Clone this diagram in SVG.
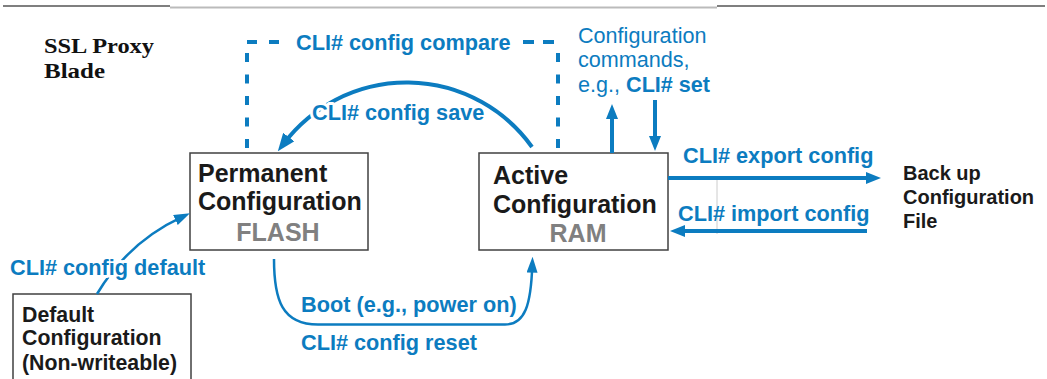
<svg xmlns="http://www.w3.org/2000/svg" width="1047" height="379" viewBox="0 0 1047 379">
<style>
.lbl{font-family:"Liberation Sans",Arial,sans-serif;font-weight:bold;font-size:21.7px;fill:#0c7cc0}
.halo{stroke:#fff;stroke-width:6;stroke-linejoin:round;paint-order:stroke}
.reg{font-family:"Liberation Sans",Arial,sans-serif;font-size:21.6px;fill:#0c7cc0}
.node{font-family:"Liberation Sans",Arial,sans-serif;font-weight:bold;font-size:25px;fill:#1a1a1a}
.mem{font-family:"Liberation Sans",Arial,sans-serif;font-weight:bold;font-size:25px;fill:#808080}
.small{font-family:"Liberation Sans",Arial,sans-serif;font-weight:bold;font-size:21.3px;fill:#1a1a1a}
.ttl{font-family:"Liberation Serif","Times New Roman",serif;font-weight:bold;font-size:22px;fill:#111}
.box{fill:#fff;stroke:#404040;stroke-width:1.5}
.thick{fill:none;stroke:#0c7cc0;stroke-width:4}
.thin{fill:none;stroke:#0c7cc0;stroke-width:2.5}
.dash{fill:none;stroke:#0c7cc0;stroke-width:4}
</style>
<defs>
<marker id="ahL" markerUnits="userSpaceOnUse" markerWidth="18" markerHeight="14" refX="8" refY="7" orient="auto"><path d="M0,0 L18,7 L0,14 z" fill="#0c7cc0"/></marker>
<marker id="ahM" markerUnits="userSpaceOnUse" markerWidth="15" markerHeight="12" refX="5" refY="6" orient="auto"><path d="M0,0 L15,6 L0,12 z" fill="#0c7cc0"/></marker>
<marker id="ahS" markerUnits="userSpaceOnUse" markerWidth="16" markerHeight="11" refX="8" refY="5.5" orient="auto"><path d="M0,0 L16,5.5 L0,11 z" fill="#0c7cc0"/></marker>
</defs>
<g id="top-rule">
<line x1="3" y1="6" x2="170" y2="6" stroke="#555" stroke-width="1.5"/>
<line x1="170" y1="7.5" x2="717" y2="7.5" stroke="#bbb" stroke-width="2"/>
<line x1="717" y1="6" x2="1045" y2="6" stroke="#555" stroke-width="1.5"/>
<line x1="717" y1="180" x2="717" y2="234" stroke="#ccc" stroke-width="1"/>
</g>
<g id="title">
<text class="ttl" x="44" y="52.5" textLength="110" lengthAdjust="spacingAndGlyphs">SSL Proxy</text>
<text class="ttl" x="44" y="77.5" textLength="61" lengthAdjust="spacingAndGlyphs">Blade</text>
</g>
<g id="node-permanent">
<rect class="box" x="190" y="153" width="178" height="97"/>
<text class="node" x="198" y="182">Permanent</text>
<text class="node" x="198" y="210">Configuration</text>
<text class="mem" x="278" y="241" text-anchor="middle">FLASH</text>
</g>
<g id="node-active">
<rect class="box" x="479" y="153" width="189" height="97"/>
<text class="node" x="493" y="184">Active</text>
<text class="node" x="493" y="213">Configuration</text>
<text class="mem" x="578" y="242" text-anchor="middle">RAM</text>
</g>
<g id="node-default">
<rect class="box" x="13" y="294" width="178" height="95"/>
<text class="small" x="22" y="322">Default</text>
<text class="small" x="22" y="345">Configuration</text>
<text class="small" x="22" y="370">(Non-writeable)</text>
</g>
<g id="node-backup">
<text font-family="'Liberation Sans',Arial,sans-serif" font-weight="bold" font-size="20" fill="#1a1a1a">
<tspan x="903" y="180">Back up</tspan>
<tspan x="903" y="204">Configuration</tspan>
<tspan x="903" y="228">File</tspan>
</text>
</g>
<g id="node-commands">
<text class="reg" x="578" y="43">Configuration</text>
<text class="reg" x="578" y="67">commands,</text>
<text class="reg" x="578" y="92">e.g., <tspan font-weight="bold">CLI# set</tspan></text>
</g>
<g id="connectors">
<path class="dash" d="M247,42 H280" stroke-dasharray="10 12"/>
<path class="dash" d="M523,42 H558" stroke-dasharray="11 9"/>
<path class="dash" d="M247,53 V152" stroke-dasharray="9 12.5"/>
<path class="dash" d="M558,53 V152" stroke-dasharray="9 12.5"/>
<text class="lbl" x="296" y="50">CLI# config compare</text>
<path class="thick" d="M532,147 A154.2,154.2 0 0 0 283.9,143.4" marker-end="url(#ahL)"/>
<text class="lbl halo" x="312" y="120">CLI# config save</text>
<path class="thick" d="M612,153 V114" marker-end="url(#ahM)"/>
<path class="thick" d="M655,100 V141" marker-end="url(#ahM)"/>
<path class="thick" d="M668,178 H871" marker-end="url(#ahM)"/>
<text class="lbl" x="683" y="163">CLI# export config</text>
<path class="thick" d="M867,231 H680" marker-end="url(#ahM)"/>
<text class="lbl" x="678" y="221">CLI# import config</text>
<path class="thin" d="M97,294 Q128,242 182.7,216.7" marker-end="url(#ahS)"/>
<text class="lbl halo" x="10" y="275">CLI# config default</text>
<path class="thin" d="M274,259 C274,300 282,324.5 318,324.5 L505,324.5 C525,324.5 531,305 532.3,264.7" marker-end="url(#ahS)"/>
<text class="lbl" x="301" y="312">Boot (e.g., power on)</text>
<text class="lbl" x="301" y="350">CLI# config reset</text>
</g>
</svg>
